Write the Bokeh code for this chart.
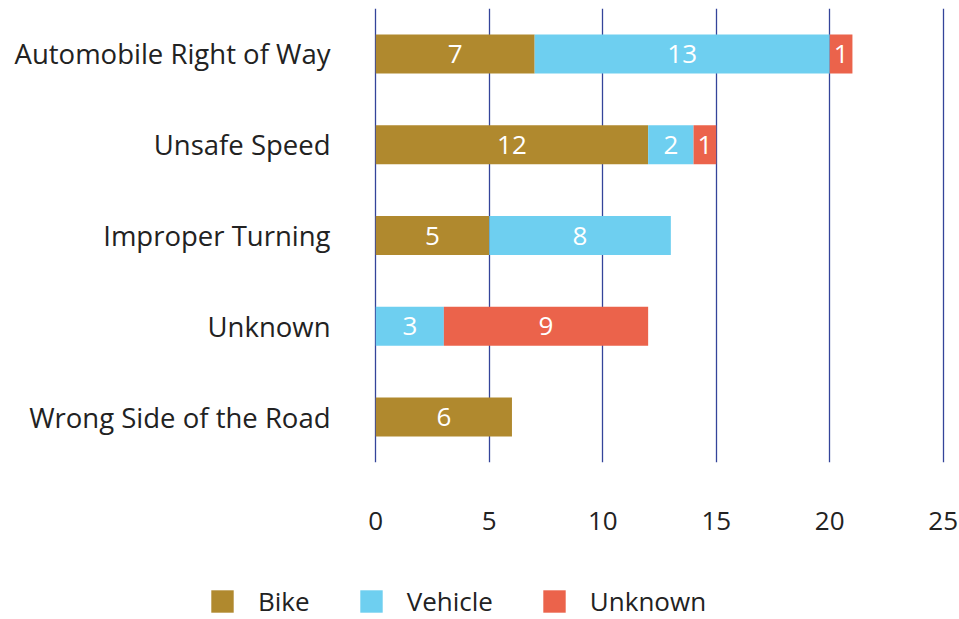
from bokeh.plotting import figure
from bokeh.layouts import column, row
from bokeh.models import ColumnDataSource, FactorRange, Range1d, FixedTicker, Legend, LegendItem
from bokeh.core.properties import value
from bokeh.embed import file_html
from bokeh.resources import INLINE

categories = ["Automobile Right of Way", "Unsafe Speed", "Improper Turning", "Unknown", "Wrong Side of the Road"]
bike = [7, 12, 5, 0, 6]
vehicle = [13, 2, 8, 3, 0]
unknown = [1, 1, 0, 9, 0]
series_names = ["Bike", "Vehicle", "Unknown"]
x_ticks = [0, 5, 10, 15, 20, 25]

colors = ["#B0892E", "#6ECFF0", "#EB634B"]
FONT = "Open Sans"

p = figure(width=959, height=570, output_backend="svg", toolbar_location=None,
           y_range=FactorRange(factors=list(reversed(categories)), range_padding=0),
           x_range=Range1d(-0.1, 25.1),
           min_border_left=373, min_border_right=14, min_border_top=8, min_border_bottom=108)
p.outline_line_color = None
p.background_fill_color = "white"

src = ColumnDataSource(dict(cat=categories, Bike=bike, Vehicle=vehicle, Unknown=unknown))
renderers = p.hbar_stack(series_names, y="cat", height=0.43, color=colors, source=src,
                         line_color=None)
p.center = [c for c in p.center if not isinstance(c, Legend)]

# segment labels
lx, ly, lt = [], [], []
for i, c in enumerate(categories):
    start = 0
    for vals in (bike, vehicle, unknown):
        v = vals[i]
        if v:
            lx.append(start + v / 2)
            ly.append(c)
            lt.append(str(v))
        start += v
p.text(x=lx, y=ly, text=lt, text_align="center", text_baseline="middle",
       text_color="white", text_font_size="26px", text_font=value(FONT))

# axes
p.xaxis.ticker = FixedTicker(ticks=x_ticks)
p.xaxis.axis_line_color = None
p.xaxis.major_tick_line_color = None
p.xaxis.minor_tick_line_color = None
p.xaxis.major_label_standoff = 43
p.xaxis.major_label_text_font = FONT
p.xaxis.major_label_text_font_size = "26px"
p.xaxis.major_label_text_color = "#222222"

p.yaxis.axis_line_color = None
p.yaxis.major_tick_line_color = None
p.yaxis.major_label_standoff = 37
p.yaxis.major_label_text_font = FONT
p.yaxis.major_label_text_font_size = "27.5px"
p.yaxis.major_label_text_color = "#222222"

p.ygrid.grid_line_color = None
p.xgrid.ticker = FixedTicker(ticks=x_ticks)
p.xgrid.grid_line_color = "#34449A"
p.xgrid.grid_line_width = 1.3
p.xgrid.level = "underlay"

# legend strip (its own figure; bars there are hidden, only the legend shows)
p2 = figure(width=959, height=49, output_backend="svg", toolbar_location=None,
            x_axis_type=None, y_axis_type=None, min_border=0,
            x_range=Range1d(0, 1), y_range=FactorRange(factors=categories))
p2.outline_line_color = None
p2.grid.grid_line_color = None
leg_r = p2.hbar_stack(series_names, y="cat", height=0.43, color=colors, source=src,
                      line_color=None, visible=False)
p2.center = [c for c in p2.center if not isinstance(c, Legend)]
legend = Legend(items=[LegendItem(label=n, renderers=[r]) for n, r in zip(series_names, leg_r)],
                location=(208, 0), orientation="horizontal",
                glyph_width=28, glyph_height=28, label_standoff=22, spacing=47,
                padding=0, margin=0, border_line_alpha=0, background_fill_alpha=0,
                inactive_fill_alpha=0,
                label_text_font=FONT, label_text_font_size="26px", label_text_color="#222222")
p2.add_layout(legend, "center")

layout = column(p, row(p2), spacing=0)
open("out.html", "w").write(file_html(layout, INLINE))
